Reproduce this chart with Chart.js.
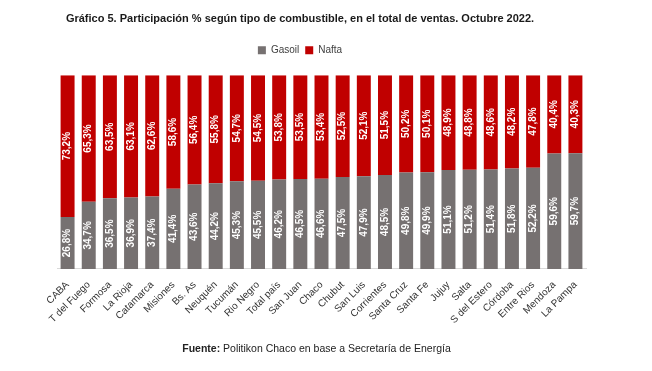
<!DOCTYPE html>
<html>
<head>
<meta charset="utf-8">
<script src="https://cdn.jsdelivr.net/npm/chart.js@4"></script>
<style>
  html, body { margin: 0; padding: 0; background: #fff; }
  #wrap { position: relative; width: 652px; height: 371px; }
  #note { position: absolute; left: 0; width: 633px; top: 342px; text-align: center;
          font: 10.5px "Liberation Sans", Arial, sans-serif; color: #222; }
</style>
</head>
<body>
<div id="wrap">
  <canvas id="chart" width="652" height="371"></canvas>
  <div id="note"><b>Fuente:</b> Politikon Chaco en base a Secretaría de Energía</div>
</div>
<script>
var provincias = ['CABA', 'T del Fuego', 'Formosa', 'La Rioja', 'Catamarca', 'Misiones', 'Bs. As', 'Neuquén',
    'Tucumán', 'Rio Negro', 'Total país', 'San Juan', 'Chaco', 'Chubut', 'San Luis', 'Corrientes',
    'Santa Cruz', 'Santa Fe', 'Jujuy', 'Salta', 'S del Estero', 'Córdoba', 'Entre Rios', 'Mendoza', 'La Pampa'];
var gasoil = [26.8, 34.7, 36.5, 36.9, 37.4, 41.4, 43.6, 44.2, 45.3, 45.5, 46.2, 46.5, 46.6, 47.5, 47.9,
    48.5, 49.8, 49.9, 51.1, 51.2, 51.4, 51.8, 52.2, 59.6, 59.7];
var nafta = [73.2, 65.3, 63.5, 63.1, 62.6, 58.6, 56.4, 55.8, 54.7, 54.5, 53.8, 53.5, 53.4, 52.5, 52.1,
    51.5, 50.2, 50.1, 48.9, 48.8, 48.6, 48.2, 47.8, 40.4, 40.3];

// rotated white value labels, centred in each segment
var barLabels = {
    id: 'barLabels',
    afterDatasetsDraw: function(chart) {
        var ctx = chart.ctx;
        chart.data.datasets.forEach(function(ds, i) {
            var meta = chart.getDatasetMeta(i);
            meta.data.forEach(function(bar, j) {
                var cy = (bar.y + bar.base) / 2;
                ctx.save();
                ctx.translate(bar.x, cy);
                ctx.rotate(-Math.PI / 2);
                ctx.fillStyle = '#ffffff';
                ctx.font = 'bold 10px "Liberation Sans", Arial, sans-serif';
                ctx.textAlign = 'center';
                ctx.textBaseline = 'middle';
                ctx.fillText(ds.data[j].toFixed(1).replace('.', ',') + '%', 0, 0);
                ctx.restore();
            });
        });
    }
};

// extra space under the legend
var legendGap = {
    id: 'legendGap',
    beforeInit: function(chart) {
        var fit = chart.legend.fit;
        chart.legend.fit = function() {
            fit.bind(chart.legend)();
            this.height += 10;
        };
    }
};

const data = {
    labels: provincias,
    datasets: [{
        label: 'Gasoil',
        data: gasoil,
        backgroundColor: '#767171',
        barPercentage: 0.66,
        categoryPercentage: 1
    },{
        label: 'Nafta',
        data: nafta,
        backgroundColor: '#c00000',
        barPercentage: 0.66,
        categoryPercentage: 1
    }]
};

const config = {
    type: 'bar',
    data,
    plugins: [barLabels, legendGap],
    options: {
        responsive: false,
        animation: false,
        layout: { padding: { left: 0, right: 52, top: 12, bottom: 35 } },
        plugins: {
            title: {
                display: true,
                text: 'Gráfico 5. Participación % según tipo de combustible, en el total de ventas. Octubre 2022.',
                color: '#1a1a1a',
                font: { family: '"Liberation Sans", Arial, sans-serif', size: 11, weight: 'bold' },
                padding: { top: 0, bottom: 14 }
            },
            legend: {
                labels: {
                    boxWidth: 8, boxHeight: 8,
                    color: '#404040',
                    font: { family: '"Liberation Sans", Arial, sans-serif', size: 10 },
                    padding: 6
                }
            },
            tooltip: { enabled: false }
        },
        scales: {
            x: {
                stacked: true,
                grid: { display: false, drawTicks: false },
                border: { color: '#d9d9d9' },
                ticks: {
                    color: '#333333',
                    autoSkip: false,
                    maxRotation: 45, minRotation: 45,
                    padding: 10,
                    font: { family: '"Liberation Sans", Arial, sans-serif', size: 10 }
                }
            },
            y: {
                stacked: true,
                min: 0, max: 100,
                ticks: { display: false },
                grid: { display: false },
                border: { display: false },
                afterFit: function(scale) { scale.width = 57; }
            },
            y2: {
                position: 'right',
                min: 0, max: 100,
                ticks: { display: false },
                grid: { display: false },
                border: { display: false },
                afterFit: function(scale) { scale.width = 14; }
            }
        }
    }
};

const ctx = document.getElementById('chart').getContext('2d');
const myChart = new Chart(ctx, config);
</script>
</body>
</html>
